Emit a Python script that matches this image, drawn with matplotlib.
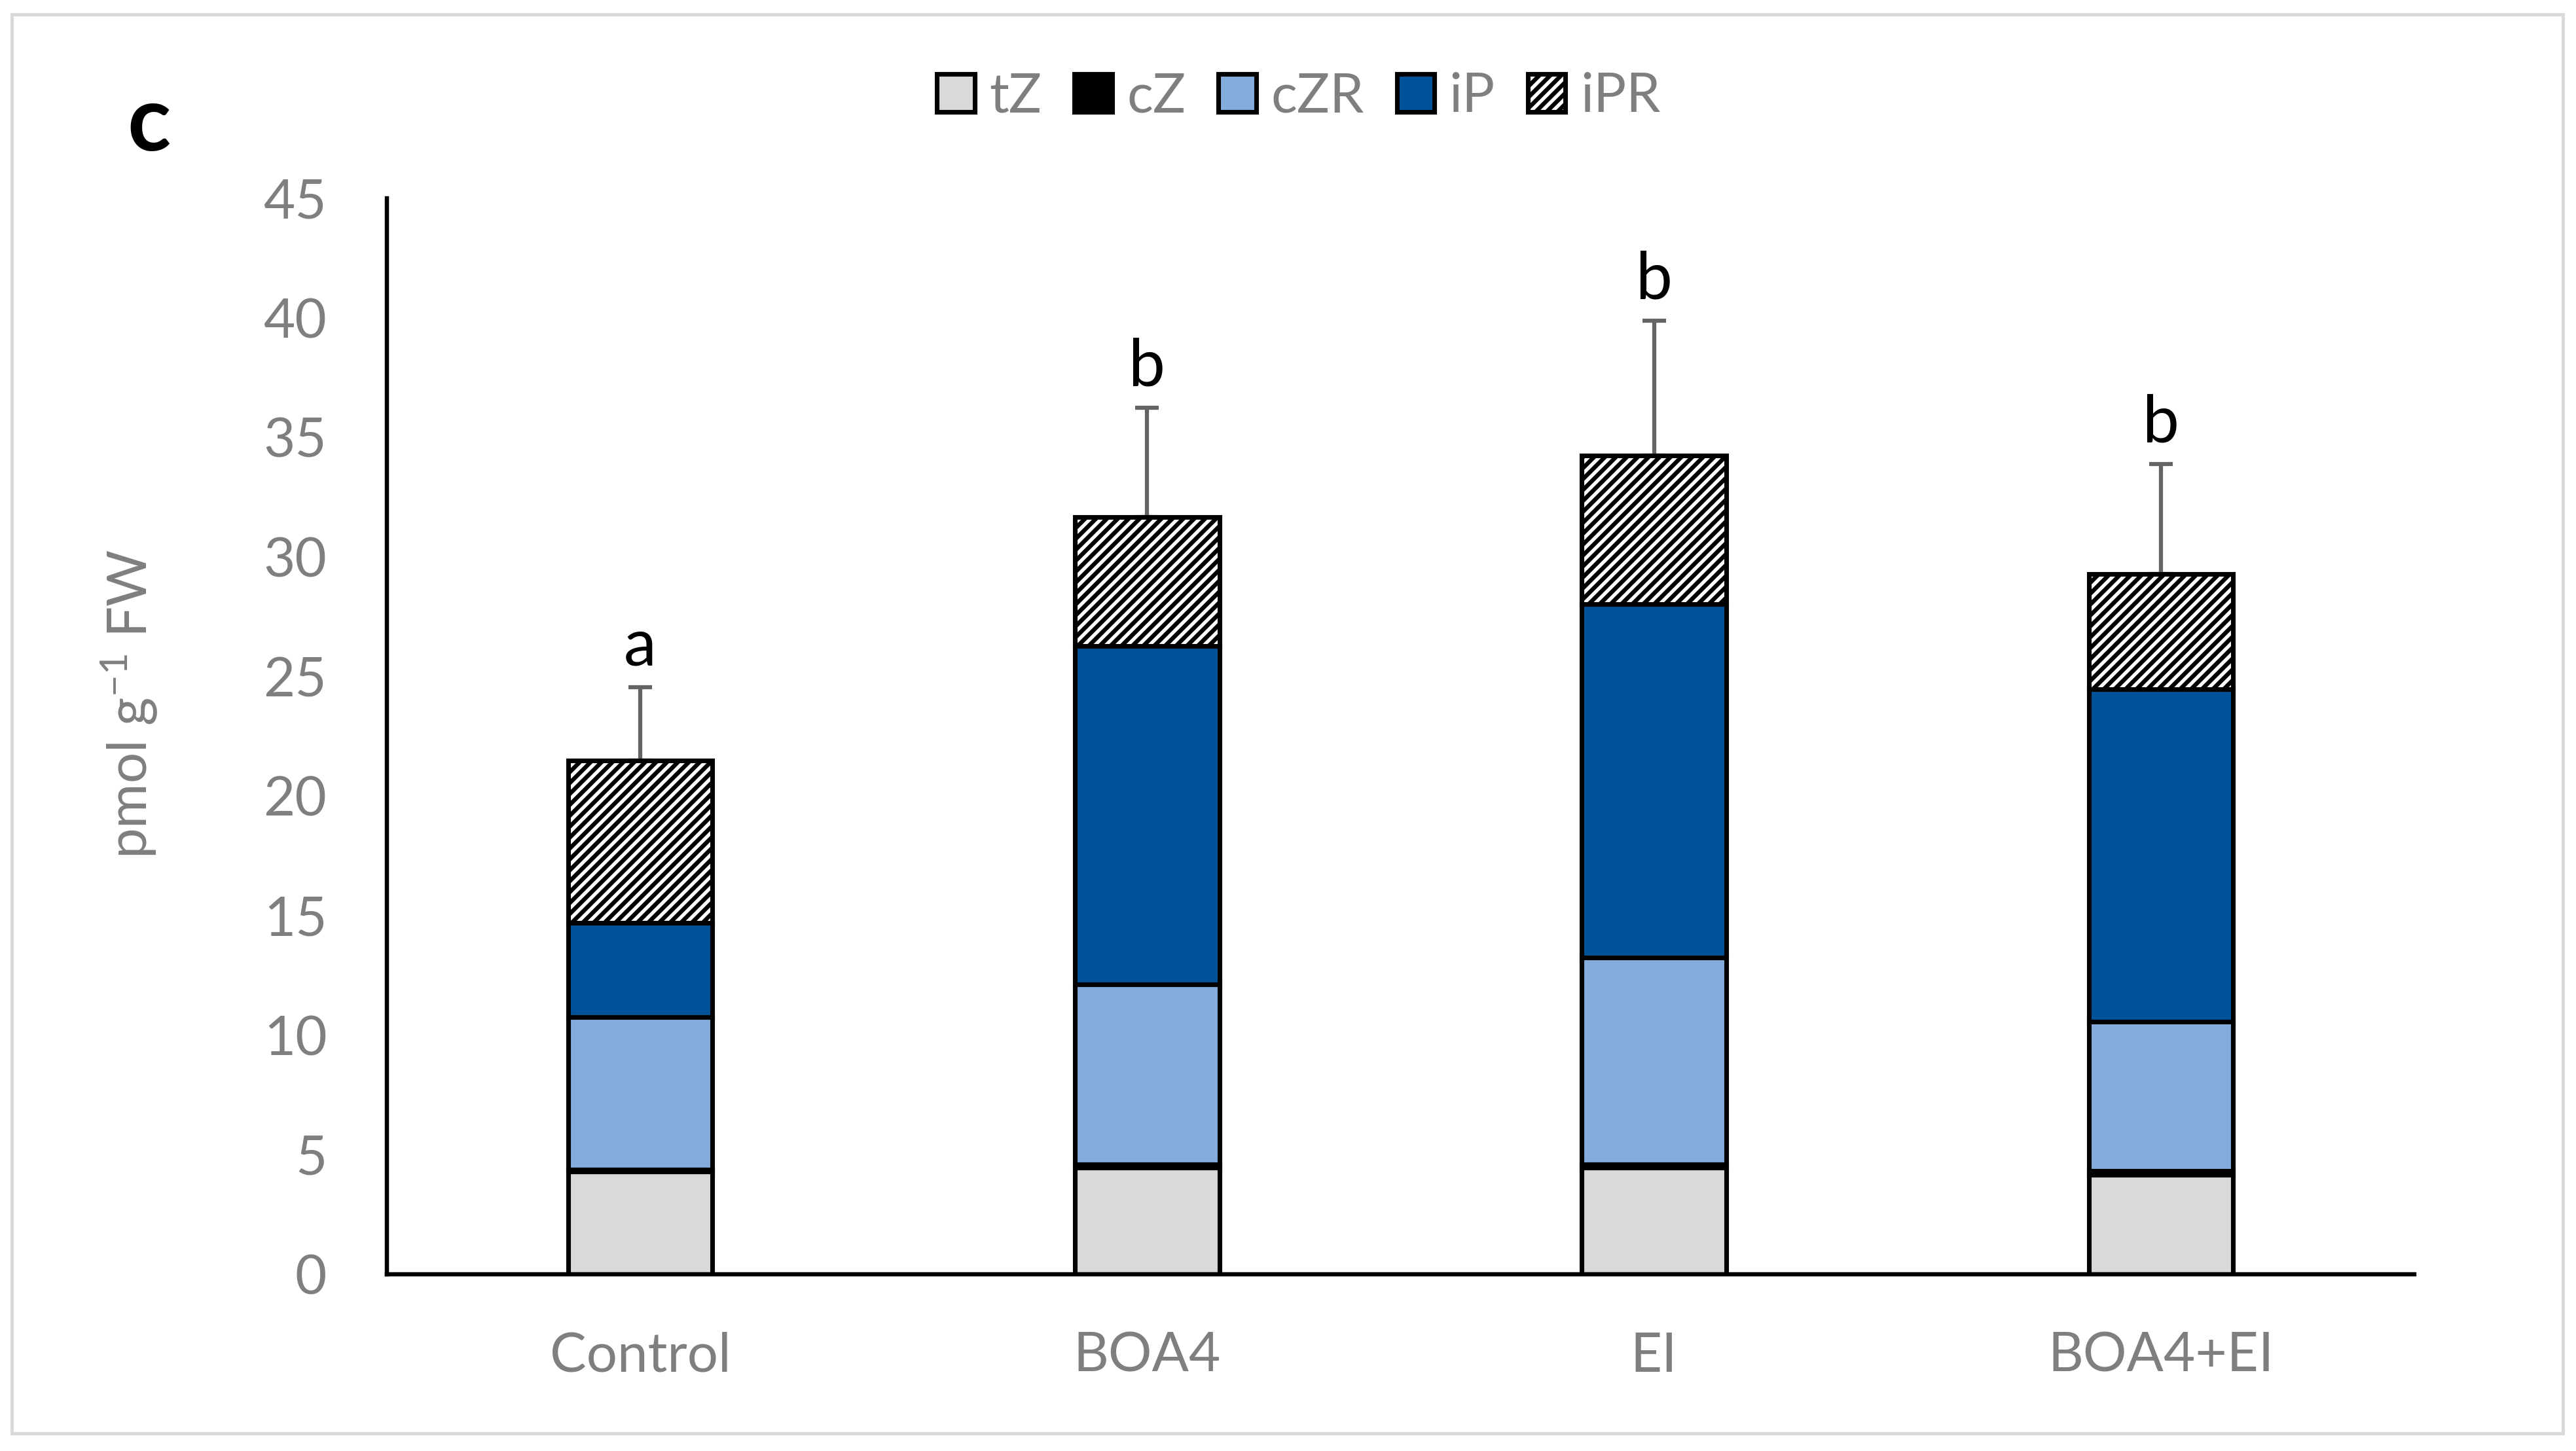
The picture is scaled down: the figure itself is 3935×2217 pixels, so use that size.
import numpy as np
import matplotlib
matplotlib.use("Agg")
import matplotlib.pyplot as plt
from matplotlib.patches import Patch, Rectangle

plt.rcParams["font.family"] = ["Lato", "DejaVu Sans"]
plt.rcParams["mathtext.fontset"] = "custom"
plt.rcParams["mathtext.rm"] = "Lato"
plt.rcParams["mathtext.default"] = "regular"
plt.rcParams["hatch.color"] = "#243447"
plt.rcParams["hatch.linewidth"] = 1.55

# data (pmol g-1 FW)
treatments = ["Control", "BOA4", "EI", "BOA4+EI"]
tZ = [4.30, 4.45, 4.45, 4.15]
cZ = [0.07, 0.15, 0.15, 0.17]
cZR = [6.40, 7.53, 8.65, 6.24]
iP = [3.93, 14.15, 14.79, 13.91]
iPR = [6.80, 5.39, 6.19, 4.81]
err = [3.05, 4.56, 5.65, 4.61]
letters = ["a", "b", "b", "b"]

names = ["tZ", "cZ", "cZR", "iP", "iPR"]
fills = ["#D9D9D9", "#000000", "#84ACDD", "#00529B", "white"]
hatches = [None, None, None, None, "//////"]

gray = "#7F7F7F"
W, H, dpi = 3936, 2217, 300
fig = plt.figure(figsize=(W / dpi, H / dpi), dpi=dpi)
ax = fig.add_axes([591 / W, 1 - 1947 / H, (3688 - 591) / W, (1947 - 303) / H])

# outer chart border
fig.patches.append(Rectangle((18 / W, 1 - 2190 / H), (3915 - 18) / W, (2190 - 22) / H,
                             transform=fig.transFigure, fill=False,
                             edgecolor="#D9D9D9", linewidth=1.2))

x = np.arange(len(treatments))
bottom = np.zeros(len(treatments))
for vals, name, fc, h in zip([tZ, cZ, cZR, iP, iPR], names, fills, hatches):
    ax.bar(x, vals, 0.285, bottom=bottom, color=fc, edgecolor="black",
           linewidth=1.7, hatch=h, zorder=2, label=name)
    bottom = bottom + np.array(vals)

ax.errorbar(x, bottom, yerr=[np.zeros(len(x)), err], fmt="none", ecolor="#646464",
            elinewidth=1.5, capsize=4.3, capthick=1.5, zorder=1)
for xi, top, e, lab in zip(x, bottom, err, letters):
    ax.annotate(lab, (xi, top + e), xytext=(0, 4), textcoords="offset points",
                ha="center", va="bottom", fontsize=24, color="black")

ax.set_xlim(-0.5, 3.5)
ax.set_ylim(0, 45)
ax.set_yticks(range(0, 46, 5))
ax.set_xticks(x)
ax.set_xticklabels(treatments)
ax.tick_params(axis="both", length=0, labelsize=20, colors=gray)
ax.tick_params(axis="y", pad=22)
ax.tick_params(axis="x", pad=21)
for s in ["top", "right"]:
    ax.spines[s].set_visible(False)
for s in ["left", "bottom"]:
    ax.spines[s].set_linewidth(1.55)
    ax.spines[s].set_color("black")

ax.set_ylabel("pmol g$^{-1}$ FW", fontsize=20, color=gray)
ax.yaxis.set_label_coords(-0.112, 0.53)

handles = [Patch(facecolor=fc, edgecolor="black", linewidth=1.7, hatch=h, label=n)
           for n, fc, h in zip(names, fills, hatches)]
fig.legend(handles=handles, loc="center", bbox_to_anchor=(0.504, 1 - 148 / H), ncol=5,
           frameon=False, fontsize=20, labelcolor=gray, handlelength=0.69,
           handleheight=0.69, handletextpad=0.27, columnspacing=0.6)

fig.text(228 / W, 1 - 190 / H, "c", fontsize=33, fontweight="bold",
         ha="center", va="center", color="black")

fig.savefig("out.png", dpi=dpi)
